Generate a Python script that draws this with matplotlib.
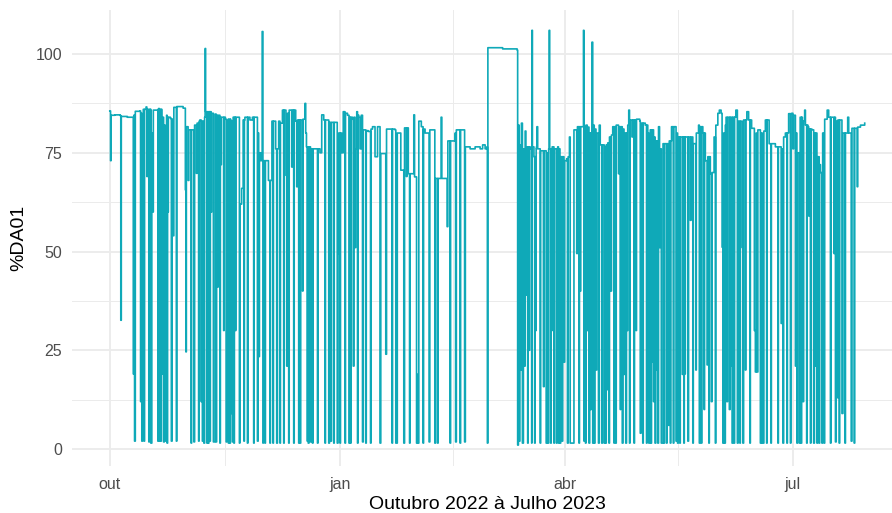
import matplotlib
matplotlib.use("Agg")
import matplotlib.pyplot as plt
import pandas as pd

# Days elapsed since 2022-10-01 and the matching %DA01 reading
dias = [
    0.0, 0.3, 0.5, 2.0, 4.2, 4.4, 4.6, 7.0, 9.2, 9.4, 9.6, 9.9, 10.2, 12.0, 12.3, 12.5,
    12.8, 13.1, 13.4, 14.5, 14.8, 15.1, 15.6, 15.9, 16.4, 16.8, 17.1, 17.4, 18.5, 19.5,
    19.8, 20.1, 20.8, 21.1, 21.5, 21.8, 22.1, 22.4, 22.7, 23.5, 24.2, 24.6, 24.9, 25.3,
    25.6, 27.0, 29.3, 30.2, 30.4, 30.6, 31.3, 31.6, 33.4, 33.6, 33.9, 34.6, 34.9, 36.0,
    37.0, 37.3, 37.6, 37.9, 38.1, 38.3, 39.3, 39.6, 41.0, 41.4, 41.8, 42.1, 43.0, 43.3,
    44.3, 44.6, 46.2, 46.5, 46.8, 47.4, 47.7, 48.3, 48.6, 49.0, 49.3, 50.6, 51.8, 52.0,
    52.7, 53.3, 54.0, 56.0, 57.0, 58.6, 59.0, 59.3, 59.5, 59.8, 60.3, 60.9, 61.2, 61.6,
    63.0, 63.4, 64.5, 64.8, 65.8, 66.3, 66.7, 67.0, 67.5, 68.5, 69.0, 70.0, 70.4, 70.7,
    71.0, 72.0, 72.7, 73.0, 74.0, 74.3, 74.7, 75.0, 76.0, 76.3, 77.7, 78.0, 78.3, 78.6,
    79.3, 79.6, 80.2, 80.5, 82.0, 84.0, 84.7, 85.5, 87.0, 87.5, 87.8, 88.3, 88.6, 90.6,
    90.9, 91.2, 91.5, 92.7, 93.3, 95.0, 95.6, 95.9, 97.0, 97.3, 97.6, 98.0, 98.3, 98.7,
    99.5, 100.0, 100.5, 101.0, 101.3, 103.3, 105.0, 106.0, 107.0, 108.0, 108.3, 110.0,
    110.3, 110.6, 112.0, 114.0, 114.3, 114.6, 114.9, 116.0, 116.3, 117.3, 117.5, 117.8,
    118.5, 118.8, 119.3, 121.2, 121.5, 121.8, 122.6, 122.9, 123.2, 123.5, 124.5, 126.0,
    127.2, 127.6, 127.9, 129.6, 129.9, 130.2, 132.0, 132.4, 132.7, 134.6, 134.8, 135.1,
    137.0, 138.0, 138.2, 138.5, 141.5, 141.8, 142.1, 144.0, 146.0, 148.0, 149.0, 150.0,
    150.7, 150.9, 151.1, 157.0, 162.6, 162.8, 163.0, 163.3, 163.6, 163.9, 164.2, 164.5,
    164.9, 165.3, 165.6, 166.0, 166.3, 166.7, 167.3, 168.0, 168.6, 168.7, 168.9, 169.5,
    170.5, 170.7, 171.0, 172.5, 173.3, 173.6, 174.4, 174.7, 175.1, 175.4, 175.6, 175.8,
    177.0, 178.0, 179.0, 179.3, 179.6, 179.9, 180.2, 181.3, 181.5, 181.8, 182.6, 182.9,
    183.2, 183.7, 184.0, 184.6, 185.2, 185.5, 186.2, 186.6, 186.9, 188.5, 189.3, 189.5,
    189.8, 190.5, 190.8, 191.1, 191.5, 191.8, 192.1, 192.4, 192.7, 193.0, 193.3, 193.6,
    193.9, 194.3, 194.6, 195.3, 195.6, 196.0, 196.3, 196.6, 196.9, 197.6, 197.9, 199.0,
    200.0, 200.2, 200.5, 201.0, 203.0, 203.3, 203.6, 204.6, 204.8, 205.1, 205.5, 205.8,
    206.2, 206.5, 206.7, 207.0, 207.4, 208.0, 208.7, 209.0, 211.0, 211.8, 212.0, 212.3,
    214.0, 215.0, 215.4, 215.7, 216.0, 216.7, 217.0, 217.3, 217.6, 217.9, 218.2, 218.6,
    219.0, 219.3, 219.7, 220.0, 220.4, 220.8, 221.1, 222.0, 223.0, 223.3, 223.6, 224.5,
    226.0, 226.3, 226.6, 226.9, 227.2, 228.5, 228.8, 229.1, 229.7, 230.0, 230.9, 231.0,
    231.3, 232.0, 232.3, 233.5, 235.3, 235.6, 235.9, 237.0, 238.0, 238.7, 239.0, 240.0,
    240.4, 240.7, 241.5, 243.0, 243.6, 244.3, 244.7, 245.0, 245.3, 245.7, 246.0, 246.3,
    246.6, 246.9, 247.6, 247.9, 248.0, 248.3, 248.7, 249.0, 250.2, 250.8, 251.1, 252.6,
    252.7, 253.0, 253.3, 254.6, 255.3, 256.5, 257.3, 257.6, 258.0, 258.3, 258.7, 259.0,
    259.6, 260.0, 260.4, 260.8, 261.1, 261.4, 262.0, 263.3, 263.5, 265.0, 266.0, 268.0,
    268.3, 268.6, 269.0, 269.3, 270.0, 271.3, 272.6, 273.0, 273.3, 274.0, 274.3, 274.6,
    274.9, 275.6, 275.9, 276.8, 277.0, 277.3, 277.7, 278.0, 279.0, 279.3, 279.6, 280.6,
    281.3, 281.6, 282.0, 282.3, 282.6, 282.9, 284.0, 284.6, 284.9, 286.0, 286.7, 287.3,
    289.0, 289.4, 289.7, 290.0, 290.3, 290.6, 291.0, 292.0, 292.6, 293.0, 294.6, 294.9,
    295.3, 296.3, 296.6, 298.6, 298.7, 298.9, 300.0, 301.7,
]

da01 = [
    85.6, 73.0, 84.5, 84.6, 84.4, 32.6, 84.2, 84.0, 84.0, 19.0, 84.5, 2.0, 85.5, 85.6, 12.0, 85.0,
    2.0, 61.0, 86.0, 86.6, 69.0, 86.0, 1.8, 86.0, 1.5, 80.0, 60.0, 85.8, 85.8, 86.2,
    2.0, 86.0, 19.0, 84.0, 1.8, 82.0, 73.0, 2.0, 84.5, 84.0, 83.7, 2.0, 83.5, 54.0,
    86.5, 86.7, 86.3, 65.6, 24.6, 81.6, 68.0, 80.8, 80.8, 1.8, 82.0, 69.8, 82.5, 83.3,
    2.0, 83.0, 1.5, 84.0, 101.4, 85.4, 1.5, 85.4, 85.0, 1.8, 1.8, 84.8, 41.0, 84.5,
    72.0, 84.0, 83.5, 1.8, 83.0, 1.5, 83.5, 9.0, 83.0, 1.8, 84.0, 84.0, 1.5, 62.0,
    66.0, 83.3, 84.0, 83.3, 84.0, 84.0, 2.0, 80.0, 23.4, 75.0, 73.0, 105.7, 1.5, 73.0,
    73.0, 68.0, 68.0, 83.0, 83.0, 76.0, 1.5, 76.0, 83.0, 82.5, 85.8, 85.8, 69.3, 21.0,
    85.0, 85.8, 71.4, 85.8, 85.8, 83.0, 66.4, 83.3, 1.5, 83.3, 83.5, 87.5, 80.0, 76.5,
    1.5, 76.5, 1.8, 76.0, 76.0, 75.0, 84.6, 83.3, 83.3, 1.5, 82.7, 2.0, 82.7, 82.7,
    1.5, 49.5, 80.0, 75.0, 85.4, 84.5, 1.5, 84.0, 83.5, 21.0, 84.0, 51.0, 76.0, 85.4,
    84.0, 76.0, 84.5, 1.8, 80.8, 80.4, 81.6, 74.0, 81.6, 1.5, 74.8, 74.8,
    24.0, 81.0, 81.0, 80.8, 1.5, 1.5, 80.0, 80.0, 70.6, 70.6, 1.5, 81.3,
    69.0, 81.3, 69.7, 69.7, 84.6, 68.9, 1.5, 18.9, 1.5, 83.0, 81.6, 80.0,
    80.0, 1.8, 80.8, 80.8, 1.5, 68.5, 68.5, 84.0, 68.5, 68.5, 56.3, 78.0,
    78.0, 80.0, 1.8, 80.8, 80.8, 1.8, 76.5, 76.0, 76.5, 76.0, 77.0, 76.0,
    76.5, 1.5, 101.6, 101.3, 101.3, 101.0, 1.0, 82.0, 2.0, 77.0, 20.0, 82.5,
    1.5, 76.0, 21.0, 80.5, 39.0, 76.5, 76.5, 76.0, 1.5, 106.0, 76.5, 74.0,
    76.5, 81.6, 76.0, 75.5, 15.8, 75.5, 1.5, 75.0, 1.5, 76.0, 106.0, 76.0,
    76.5, 76.0, 76.5, 1.5, 76.0, 1.5, 74.0, 74.0, 22.0, 73.0, 73.5, 1.5,
    74.0, 79.0, 1.5, 1.5, 1.5, 80.8, 80.8, 49.5, 81.6, 81.6, 106.0, 2.0,
    81.6, 82.0, 30.0, 81.5, 1.5, 80.0, 10.0, 80.0, 103.0, 1.5, 82.0, 1.5,
    81.0, 20.0, 80.0, 1.5, 82.0, 77.0, 77.0, 1.5, 77.0, 1.5, 76.5, 77.5,
    79.0, 40.0, 79.5, 81.6, 82.0, 69.7, 81.6, 81.6, 1.5, 81.0, 18.9, 80.0,
    1.5, 80.0, 30.0, 82.0, 85.8, 83.3, 79.0, 83.3, 83.5, 83.0, 4.0, 82.5,
    82.0, 80.0, 1.5, 1.5, 80.8, 22.0, 80.8, 12.0, 79.0, 1.5, 78.0, 78.0,
    1.5, 81.6, 51.0, 76.0, 1.5, 1.5, 77.3, 77.3, 77.3, 6.0, 78.0, 81.6,
    81.6, 2.0, 80.0, 1.5, 79.0, 79.0, 18.9, 79.0, 19.0, 79.0, 79.0, 2.0,
    79.0, 57.9, 79.0, 77.3, 82.0, 1.5, 81.6, 80.0, 73.0, 21.3, 74.0, 69.7,
    12.0, 70.0, 79.0, 85.0, 85.8, 85.0, 51.1, 1.5, 80.0, 1.5, 82.0, 84.0,
    12.0, 84.0, 10.0, 84.0, 21.0, 84.0, 1.5, 84.0, 85.8, 1.5, 83.0, 83.0,
    51.0, 1.5, 83.3, 85.4, 83.3, 81.2, 81.2, 30.0, 19.5, 80.0, 19.5, 80.8,
    80.8, 1.5, 80.0, 1.5, 1.5, 80.5, 83.3, 83.3, 77.3, 77.3, 76.5, 76.5,
    31.8, 76.0, 1.5, 79.0, 80.0, 84.9, 85.0, 76.0, 84.5, 21.0, 80.0, 1.5,
    75.0, 1.5, 84.0, 83.0, 12.0, 83.0, 85.8, 82.0, 81.6, 59.0, 81.0, 80.8,
    1.5, 80.0, 21.0, 80.0, 1.5, 74.0, 70.0, 1.5, 80.0, 83.5, 85.8, 84.0,
    84.0, 49.5, 84.0, 1.8, 83.0, 13.0, 83.3, 83.3, 9.0, 80.0, 80.0, 84.0,
    80.0, 2.0, 81.2, 81.2, 66.4, 81.5, 82.0, 82.5,
]

# Short outages: day they start, lowest reading, reading once recovered
quedas_dia = [
    13.7, 16.1, 19.2, 20.4, 22.9, 23.2, 26.6, 32.5, 35.5, 36.5, 38.8, 40.0, 40.5, 42.5,
    44.0, 45.5, 47.1, 48.0, 49.6, 50.2, 53.6, 55.0, 57.5, 61.35, 62.0, 64.0, 65.2, 68.0,
    69.5, 71.5, 73.5, 75.5, 77.0, 78.9, 81.0, 83.0, 86.0, 89.5, 92.0, 94.0, 96.2, 99.0,
    102.3, 104.2, 112.8, 119.8, 125.2, 131.0, 136.0, 140.0, 167.0, 167.6, 169.8, 170.2,
    172.0, 176.2, 176.6, 177.5, 178.5, 180.8, 187.5, 188.0, 190.1, 198.2, 198.6, 199.5,
    201.5, 202.2, 204.0, 207.7, 209.5, 210.3, 213.0, 214.5, 216.3, 218.35, 221.5, 222.5,
    224.0, 225.2, 227.8, 229.4, 233.0, 234.2, 236.4, 237.5, 239.4, 242.0, 249.5, 251.8,
    254.0, 255.8, 262.5, 264.2, 267.0, 270.6, 272.0, 276.3, 278.5, 280.0, 283.5, 285.5,
    288.0, 291.5, 293.8, 297.5,
]
quedas_min = [
    2.0, 30.0, 2.0, 2.0, 1.5, 60.0, 2.0, 1.5, 2.0, 12.0, 1.5, 2.0, 60.0, 1.8,
    1.5, 30.0, 2.0, 1.5, 1.5, 30.0, 2.0, 1.5, 1.5, 2.0, 1.5, 1.5, 1.5, 1.5,
    1.5, 1.5, 1.5, 1.5, 40.0, 2.0, 1.5, 1.5, 1.5, 1.5, 1.5, 1.5, 1.5, 1.5,
    1.5, 1.5, 1.5, 1.5, 1.5, 1.5, 1.5, 1.5, 1.5, 25.0, 1.5, 30.0,
    1.5, 1.5, 30.0, 1.5, 1.5, 2.0, 1.5, 40.0, 1.5, 1.5, 15.0, 1.5,
    1.5, 1.5, 10.0, 1.5, 1.5, 30.0, 1.5, 1.5, 1.5, 20.0, 1.5, 1.5,
    1.5, 1.5, 1.5, 1.5, 1.5, 20.0, 1.5, 10.0, 1.5, 1.5, 1.5, 1.5,
    20.0, 1.5, 1.5, 1.5, 1.5, 1.5, 1.5, 1.5, 1.5, 1.5, 1.5, 1.5,
    1.5, 1.5, 1.5, 1.5,
]
quedas_volta = [
    86.0, 86.0, 86.0, 86.0, 84.0, 84.0, 86.7, 80.8, 83.0, 83.0, 85.4, 85.4, 85.0, 84.5,
    84.0, 84.0, 83.5, 83.5, 84.0, 84.0, 83.3, 84.0, 84.0, 73.0, 73.0, 68.0, 83.0, 82.5,
    85.8, 85.8, 85.8, 83.3, 83.5, 76.5, 76.0, 76.0, 83.3, 82.7, 80.0, 85.0, 84.0, 84.5,
    80.6, 81.0, 81.0, 69.7, 81.0, 68.5, 78.0, 80.8, 76.5, 76.5, 74.0, 76.0,
    75.5, 76.0, 76.5, 76.0, 76.0, 74.0, 81.6, 81.6, 82.0, 77.0, 77.0, 79.0,
    81.6, 82.0, 81.6, 83.3, 83.3, 83.5, 82.5, 82.0, 80.8, 78.0, 77.3, 77.3,
    78.0, 81.6, 79.0, 79.0, 77.3, 80.0, 81.6, 80.0, 74.0, 82.0, 84.0, 83.0,
    83.3, 83.3, 83.3, 77.3, 76.5, 80.0, 84.9, 84.0, 82.0, 81.0, 72.0, 83.5,
    84.0, 83.3, 80.0, 81.2,
]

# Axis breaks
inicio = pd.Timestamp("2022-10-01")
rotulos_x = ["out", "jan", "abr", "jul"]
quebras_x = pd.to_datetime(["2022-10-01", "2023-01-01", "2023-04-01", "2023-07-01"])
quebras_x_menores = pd.to_datetime(["2022-11-16", "2023-02-15", "2023-05-16"])
quebras_y = [0, 25, 50, 75, 100]
quebras_y_menores = [12.5, 37.5, 62.5, 87.5]

# Merge the outages into the main record: each one drops to its minimum
# and comes back a few hours later
registros = list(zip(dias, da01))
for d, m, v in zip(quedas_dia, quedas_min, quedas_volta):
    registros.append((d, m))
    registros.append((d + 0.2, v))
registros.sort(key=lambda r: r[0])
serie = pd.DataFrame(registros, columns=["dia", "da01"])
serie["data"] = inicio + pd.to_timedelta(serie["dia"], unit="D")

plt.rcParams["font.family"] = ["Liberation Sans", "DejaVu Sans"]

fig = plt.figure(figsize=(8.92, 5.13), dpi=100)
ax = fig.add_axes([72 / 892, 47.2 / 513, 831 / 892, 456.2 / 513])

ax.plot(serie["data"], serie["da01"], color="#0FA9B8", linewidth=1.2,
        drawstyle="steps-post")

ax.set_xlim(inicio - pd.Timedelta(days=15.1), inicio + pd.Timedelta(days=317.0))
ax.set_ylim(-4.25, 111.25)

ax.set_xticks(quebras_x)
ax.set_xticklabels(rotulos_x)
ax.set_xticks(quebras_x_menores, minor=True)
ax.set_yticks(quebras_y)
ax.set_yticks(quebras_y_menores, minor=True)

ax.grid(which="major", color="#EBEBEB", linewidth=1.3)
ax.grid(which="minor", color="#EBEBEB", linewidth=0.7)
ax.set_axisbelow(True)

for s in ax.spines.values():
    s.set_visible(False)
ax.tick_params(which="both", length=0)
ax.tick_params(axis="x", labelsize=11.5, labelcolor="#4D4D4D", pad=8)
ax.tick_params(axis="y", labelsize=11.5, labelcolor="#4D4D4D", pad=7)

ax.set_xlabel("Outubro 2022 à Julho 2023", fontsize=14, color="black", labelpad=3)
ax.set_ylabel("%DA01", fontsize=14, color="black", labelpad=6)

fig.savefig("out.png", dpi=100)
